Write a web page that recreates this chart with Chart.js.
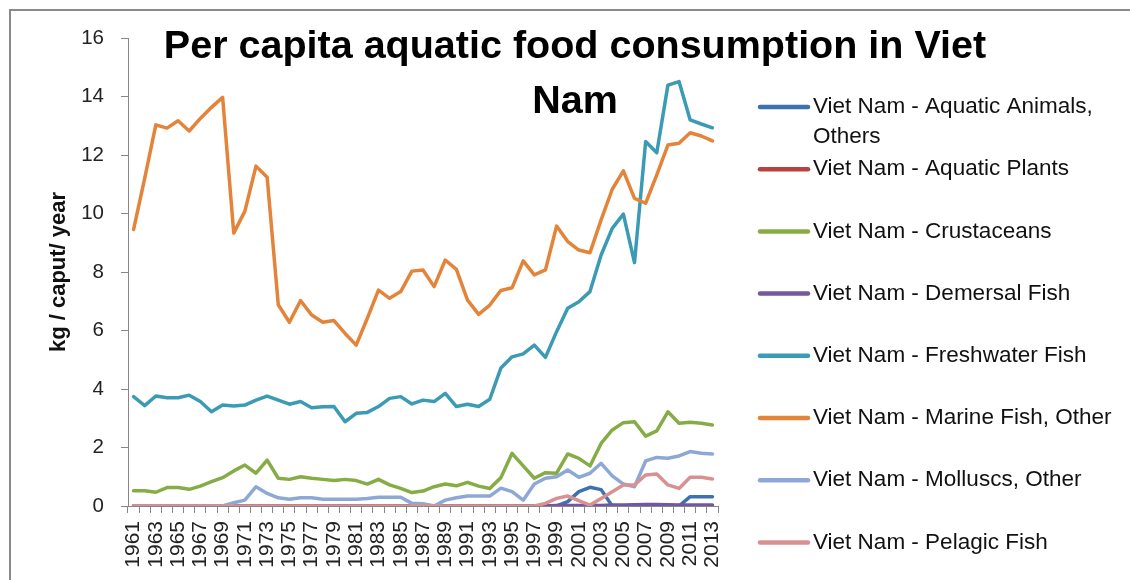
<!DOCTYPE html>
<html><head><meta charset="utf-8">
<script src="https://cdn.jsdelivr.net/npm/chart.js@4.4.1/dist/chart.umd.min.js"></script>
<style>html,body{margin:0;padding:0;background:#fff;}canvas{display:block}</style>
</head><body>
<canvas id="c" width="1130" height="580"></canvas>
<script>
const years = ['1961','1962','1963','1964','1965','1966','1967','1968','1969','1970',
'1971','1972','1973','1974','1975','1976','1977','1978','1979','1980',
'1981','1982','1983','1984','1985','1986','1987','1988','1989','1990',
'1991','1992','1993','1994','1995','1996','1997','1998','1999','2000',
'2001','2002','2003','2004','2005','2006','2007','2008','2009','2010',
'2011','2012','2013'];

const seriesNames = ['Viet Nam - Aquatic Animals, Others','Viet Nam - Aquatic Plants','Viet Nam - Crustaceans','Viet Nam - Demersal Fish','Viet Nam - Freshwater Fish','Viet Nam - Marine Fish, Other','Viet Nam - Molluscs, Other','Viet Nam - Pelagic Fish'];

const aquaticAnimals = [0,0,0,0,0,0,0,0,0,0, 0,0,0,0,0,0,0,0,0,0, 0,0,0,0,0,0,0,0,0,0,
 0,0,0,0,0,0,0,0,0,0.15, 0.49,0.64,0.56,0,0,0,0,0,0,0, 0.32,0.32,0.32];
const aquaticPlants = [0,0,0,0,0,0,0,0,0,0, 0,0,0,0,0,0,0,0,0,0, 0,0,0,0,0,0,0,0,0,0,
 0,0,0,0,0,0,0,0,0,0, 0,0,0,0,0,0,0,0,0,0, 0,0,0];
const crustaceans = [0.52,0.52,0.47,0.63,0.63,0.57,0.68,0.83,0.97,1.2,
 1.4,1.12,1.57,0.95,0.91,1.0,0.95,0.91,0.87,0.91,
 0.87,0.75,0.91,0.72,0.6,0.46,0.51,0.66,0.75,0.69,
 0.81,0.68,0.6,0.97,1.8,1.37,0.95,1.14,1.12,1.78,
 1.63,1.37,2.14,2.6,2.85,2.88,2.39,2.57,3.22,2.83,
 2.86,2.83,2.77];
const demersal = [0,0,0,0,0,0,0,0,0,0, 0,0,0,0,0,0,0,0,0,0, 0,0,0,0,0,0,0,0,0,0,
 0,0,0,0,0,0,0,0,0.02,0.02, 0.02,0.02,0.02,0.03,0.03,0.04,0.05,0.05,0.04,0.03, 0.03,0.03,0.03];
const freshwater = [3.74,3.43,3.76,3.7,3.7,3.79,3.57,3.22,3.45,3.42,
 3.45,3.62,3.76,3.62,3.48,3.57,3.36,3.39,3.4,2.88,
 3.17,3.2,3.4,3.68,3.74,3.49,3.62,3.57,3.85,3.4,
 3.48,3.4,3.65,4.72,5.1,5.2,5.5,5.08,5.96,6.76,
 6.98,7.33,8.58,9.49,9.98,8.32,12.46,12.08,14.39,14.51,
 13.2,13.06,12.93];
const marine = [9.45,11.2,13.03,12.92,13.17,12.82,13.25,13.63,13.97,9.33,
 10.08,11.62,11.24,6.88,6.28,7.02,6.53,6.28,6.34,5.9,
 5.5,6.42,7.38,7.1,7.33,8.03,8.07,7.5,8.41,8.09,
 7.04,6.55,6.87,7.37,7.46,8.38,7.9,8.07,9.57,9.04,
 8.75,8.66,9.78,10.83,11.46,10.52,10.35,11.32,12.34,12.4,
 12.76,12.65,12.48];
const molluscs = [0,0,0,0,0,0,0,0,0,0.11,
 0.2,0.66,0.43,0.28,0.23,0.28,0.28,0.23,0.23,0.23,
 0.23,0.26,0.3,0.3,0.3,0.09,0.08,0,0.2,0.28,
 0.34,0.34,0.34,0.61,0.49,0.2,0.75,0.95,1.0,1.23,
 0.98,1.12,1.46,1.03,0.75,0.66,1.54,1.66,1.63,1.71,
 1.86,1.8,1.78];
const pelagic = [0,0,0,0,0,0,0,0,0,0, 0,0,0,0,0,0,0,0,0,0, 0,0,0,0,0,0,0,0,0,0,
 0,0,0,0,0,0,0,0.09,0.26,0.34,
 0.18,0.03,0.26,0.49,0.72,0.72,1.06,1.09,0.72,0.6,
 0.98,0.98,0.92];

const yTickValues = [0,2,4,6,8,10,12,14,16];
const titleText = 'Per capita aquatic food consumption in Viet Nam';
const yAxisTitle = 'kg / caput/ year';

const colors = ['#3D72B0','#B9423F','#86AC46','#7357A0','#3B9BB4','#E3843A','#8EA8D6','#D89190'];
const FONT = '"Liberation Sans", Arial, sans-serif';

const seriesValues = [aquaticAnimals, aquaticPlants, crustaceans, demersal, freshwater, marine, molluscs, pelagic];

const datasets = seriesValues.map((v, i) => ({
  label: seriesNames[i], data: v,
  borderColor: colors[i], backgroundColor: colors[i],
  borderWidth: 3.5, pointRadius: 0, pointHoverRadius: 0, tension: 0,
  borderCapStyle: 'round', borderJoinStyle: 'round',
  order: seriesValues.length - i
}));

function wrap(ctx, text, maxW) {
  const words = text.split(' ');
  const lines = [];
  let cur = '';
  for (const w of words) {
    const t = cur ? cur + ' ' + w : w;
    if (ctx.measureText(t).width > maxW && cur) { lines.push(cur); cur = w; }
    else cur = t;
  }
  if (cur) lines.push(cur);
  return lines;
}

const overlay = {
  id: 'overlay',
  beforeDraw(chart) {
    const ctx = chart.ctx;
    ctx.save();
    ctx.fillStyle = '#fff';
    ctx.fillRect(0, 0, chart.width, chart.height);
    ctx.strokeStyle = '#8a8a8a';
    ctx.lineWidth = 2;
    ctx.strokeRect(10, 10, 1400, 900);
    ctx.restore();
  },
  afterDraw(chart) {
    const ctx = chart.ctx;
    ctx.save();
    // title
    ctx.font = 'bold 39.5px ' + FONT;
    ctx.fillStyle = '#000';
    ctx.textAlign = 'center';
    ctx.textBaseline = 'alphabetic';
    const tl = wrap(ctx, titleText, 850);
    tl.forEach((l, k) => ctx.fillText(l, 575, 58 + k * 55));
    // legend
    ctx.font = '22.5px ' + FONT;
    ctx.textAlign = 'left';
    ctx.textBaseline = 'middle';
    chart.data.datasets.forEach((ds, i) => {
      const y0 = 107 + 62.2 * i;
      ctx.strokeStyle = ds.borderColor;
      ctx.lineWidth = 4.5;
      ctx.lineCap = 'round';
      ctx.beginPath(); ctx.moveTo(760, y0); ctx.lineTo(808, y0); ctx.stroke();
      ctx.fillStyle = '#111';
      const lines = wrap(ctx, ds.label, 310);
      lines.forEach((l, k) => ctx.fillText(l, 813, y0 + k * 30));
    });
    ctx.restore();
  }
};

new Chart(document.getElementById('c'), {
  type: 'line',
  data: { labels: years, datasets },
  plugins: [overlay],
  options: {
    responsive: false, animation: false, devicePixelRatio: 1,
    layout: { padding: { left: 46, top: 38, right: 412, bottom: 0 } },
    plugins: { legend: { display: false }, title: { display: false }, tooltip: { enabled: false } },
    scales: {
      x: {
        type: 'category', offset: true,
        grid: { offset: true, drawOnChartArea: false, drawTicks: true, tickLength: 7, color: '#868686', lineWidth: 1 },
        border: { display: true, color: '#868686', width: 1 },
        ticks: {
          autoSkip: false, maxRotation: 90, minRotation: 90, padding: 8, color: '#222',
          font: { family: FONT, size: 21 },
          callback(v, i) { return i % 2 === 0 ? this.getLabelForValue(v) : ''; }
        },
        afterFit(s) { s.height = 74; }
      },
      y: {
        min: 0, max: 16,
        afterBuildTicks(s) { s.ticks = yTickValues.map(v => ({ value: v })); },
        ticks: { padding: 17, color: '#222', font: { family: FONT, size: 20.5 } },
        grid: { drawOnChartArea: false, drawTicks: true, tickLength: 7, color: '#868686' },
        border: { display: true, color: '#868686', width: 1 },
        title: { display: true, text: yAxisTitle, color: '#111', font: { family: FONT, size: 22, weight: 'bold' }, padding: { top: 0, bottom: 0 } },
        afterFit(s) { s.width = 82; }
      }
    }
  }
});
</script>
</body></html>
